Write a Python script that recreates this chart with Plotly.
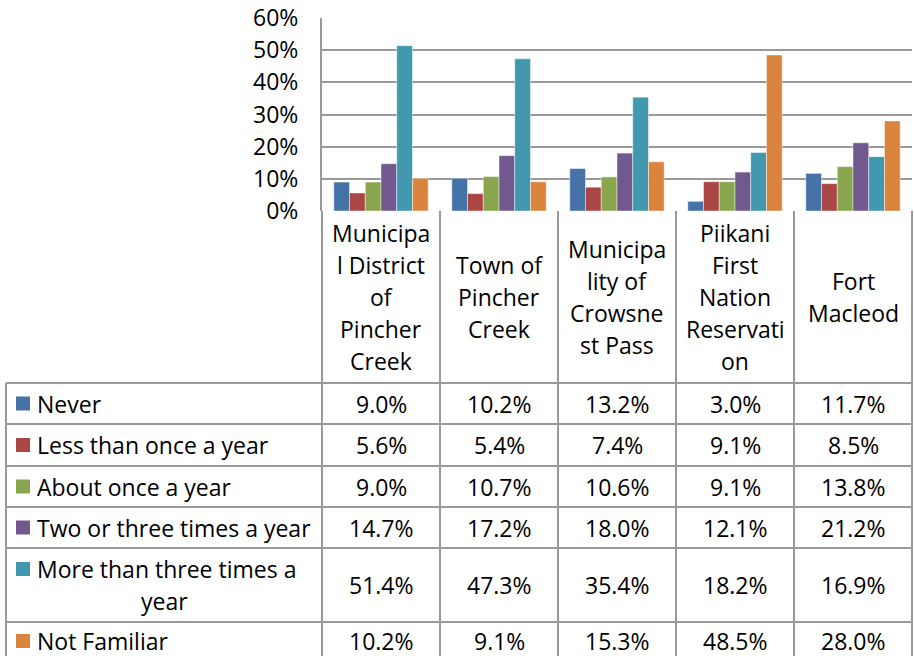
import plotly.graph_objects as go

# categories (as wrapped in the data-table header) and series values (%)
categories = [
    "Municipa<br>l District<br>of<br>Pincher<br>Creek",
    "Town of<br>Pincher<br>Creek",
    "Municipa<br>lity of<br>Crowsne<br>st Pass",
    "Piikani<br>First<br>Nation<br>Reservati<br>on",
    "Fort<br>Macleod",
]
series_names = [
    "Never",
    "Less than once a year",
    "About once a year",
    "Two or three times a year",
    "More than three times a<br>year",
    "Not Familiar",
]
never = [9.0, 10.2, 13.2, 3.0, 11.7]
less_than_once = [5.6, 5.4, 7.4, 9.1, 8.5]
about_once = [9.0, 10.7, 10.6, 9.1, 13.8]
two_or_three = [14.7, 17.2, 18.0, 12.1, 21.2]
more_than_three = [51.4, 47.3, 35.4, 18.2, 16.9]
not_familiar = [10.2, 9.1, 15.3, 48.5, 28.0]
series_values = [never, less_than_once, about_once, two_or_three,
                 more_than_three, not_familiar]
colors = ["#4572A7", "#AA4643", "#89A54E", "#71588F", "#4198AF", "#DB843D"]
y_ticks = [0, 10, 20, 30, 40, 50, 60]

W, H = 914, 656
FONT = "Open Sans"
FS = 23
GRID = "#999999"

# pixel layout of plot + data table
plot_l, plot_r, plot_t, plot_b = 322, 912, 18, 211
table_l = 6
row_edges = [383, 424, 466, 507, 548, 622, 662]
col_w = (plot_r - plot_l) / len(categories)


def px(x):
    return x / W


def py(y):
    return 1 - y / H


fig = go.Figure()
for name, vals, col in zip(series_names, series_values, colors):
    fig.add_trace(go.Bar(
        x=categories, y=[v / 100 for v in vals], name=name.replace("<br>", " "),
        marker=dict(color=col, line=dict(color="rgba(255,255,255,0.45)", width=1)),
    ))

shapes = []
line = dict(color=GRID, width=2)
# horizontal row lines
for y in row_edges:
    shapes.append(dict(type="line", xref="paper", yref="paper",
                       x0=px(table_l), x1=px(plot_r), y0=py(y), y1=py(y), line=line))
# vertical column lines
for i in range(len(categories) + 1):
    x = plot_l + i * col_w
    shapes.append(dict(type="line", xref="paper", yref="paper",
                       x0=px(x), x1=px(x), y0=py(plot_b), y1=py(H + 6), line=line))
shapes.append(dict(type="line", xref="paper", yref="paper",
                   x0=px(table_l), x1=px(table_l), y0=py(row_edges[0]), y1=py(H + 6),
                   line=line))

annotations = []
txt = dict(family=FONT, size=FS, color="#000000")
LH = 32
# header cells
hc = (plot_b + row_edges[0]) / 2
for i, cat in enumerate(categories):
    lines = cat.split("<br>")
    cx = plot_l + (i + 0.5) * col_w
    for j, ln in enumerate(lines):
        y = hc + (j - (len(lines) - 1) / 2) * LH
        annotations.append(dict(xref="paper", yref="paper", x=px(cx), y=py(y),
                                text=ln, showarrow=False, font=txt,
                                xanchor="center", yanchor="middle"))
# body rows
for r, (name, vals, col) in enumerate(zip(series_names, series_values, colors)):
    y0, y1 = row_edges[r], row_edges[r + 1]
    if r == len(series_names) - 1:
        y1 = y0 + 38
    cy = (y0 + y1) / 2
    lines = name.split("<br>")
    first_y = cy - (len(lines) - 1) / 2 * LH
    shapes.append(dict(type="rect", xref="paper", yref="paper",
                       x0=px(16), x1=px(30), y0=py(first_y - 7), y1=py(first_y + 7),
                       fillcolor=col, line=dict(width=0)))
    for j, ln in enumerate(lines):
        y = first_y + j * LH
        if j == 0:
            annotations.append(dict(xref="paper", yref="paper", x=px(35), y=py(y),
                                    text=ln, showarrow=False, font=txt,
                                    xanchor="left", yanchor="middle"))
        else:
            annotations.append(dict(xref="paper", yref="paper",
                                    x=px((table_l + plot_l) / 2), y=py(y),
                                    text=ln, showarrow=False, font=txt,
                                    xanchor="center", yanchor="middle"))
    for i, v in enumerate(vals):
        cx = plot_l + (i + 0.5) * col_w
        annotations.append(dict(xref="paper", yref="paper", x=px(cx), y=py(cy),
                                text=f"{v:.1f}%", showarrow=False, font=txt,
                                xanchor="center", yanchor="middle"))

fig.update_layout(
    width=W, height=H,
    margin=dict(l=0, r=0, t=0, b=0, pad=0),
    paper_bgcolor="white", plot_bgcolor="white",
    barmode="group", bargap=0.2, bargroupgap=0,
    showlegend=False,
    shapes=shapes, annotations=annotations,
    font=dict(family=FONT, size=FS, color="#000000"),
)
fig.update_xaxes(
    domain=[px(plot_l), px(plot_r)], automargin=False,
    showticklabels=False, showgrid=False, zeroline=False,
    showline=False,
)
fig.update_yaxes(
    domain=[py(plot_b), py(plot_t)], automargin=False,
    range=[0, 0.6], tickvals=[t / 100 for t in y_ticks],
    ticktext=[f"{t}%" for t in y_ticks],
    showgrid=True, gridcolor=GRID, gridwidth=2,
    zeroline=False, showline=True, linecolor=GRID, linewidth=2,
    ticks="", ticklabelstandoff=17,
    tickfont=dict(family=FONT, size=FS, color="#000000"),
)

# drop the browser's default body margin so the 914x656 figure fills the window
fig.write_html("out.html", config={"displayModeBar": False},
               post_script="document.body.style.margin='0';")
